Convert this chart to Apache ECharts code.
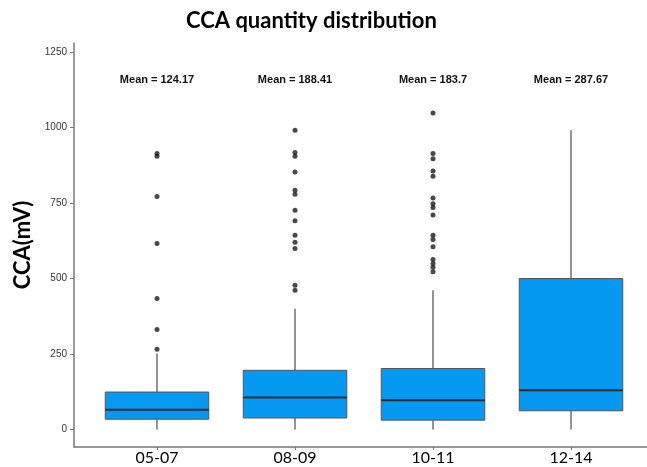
<!DOCTYPE html>
<html>
<head>
<meta charset="utf-8">
<script src="https://cdn.jsdelivr.net/npm/echarts@6/dist/echarts.min.js"></script>
<style>
  html, body { margin: 0; padding: 0; background: #fff; }
  #main { width: 647px; height: 467px; }
</style>
</head>
<body>
<div id="main"></div>
<script>
var categories = ['05-07', '08-09', '10-11', '12-14']
var means = [124.17, 188.41, 183.7, 287.67]
var mins = [0, 0, 0, 0]
var q1s = [34, 38, 31, 62]
var medians = [65, 106, 97, 130]
var q3s = [124, 196, 202, 500]
var maxs = [252, 400, 461, 991]
var outliers1 = [266, 331, 434, 616, 772, 905, 914]
var outliers2 = [461, 478, 599, 620, 643, 691, 726, 779, 792, 853, 905, 917, 991]
var outliers3 = [522, 537, 550, 563, 605, 629, 643, 710, 735, 748, 767, 839, 856, 897, 914, 1048]
var outliers4 = []
var yTicks = [0, 250, 500, 750, 1000, 1250]

var meanLabelY = 1157

var boxData = categories.map(function (c, i) {
  return [i, mins[i], q1s[i], medians[i], q3s[i], maxs[i]]
})
var outlierData = []
;[outliers1, outliers2, outliers3, outliers4].forEach(function (arr, i) {
  arr.forEach(function (v) { outlierData.push([i, v]) })
})
var meanData = means.map(function (m, i) { return [i, meanLabelY, m] })

function renderBox(params, api) {
  var x = api.value(0)
  var pMin = api.coord([x, api.value(1)])
  var pQ1 = api.coord([x, api.value(2)])
  var pMed = api.coord([x, api.value(3)])
  var pQ3 = api.coord([x, api.value(4)])
  var pMax = api.coord([x, api.value(5)])
  var w = api.size([1, 0])[0] * 0.75
  var left = pQ1[0] - w / 2
  return {
    type: 'group',
    children: [
      { type: 'line', shape: { x1: pMin[0], y1: pMin[1], x2: pQ1[0], y2: pQ1[1] },
        style: { stroke: '#888', lineWidth: 1.8 } },
      { type: 'line', shape: { x1: pQ3[0], y1: pQ3[1], x2: pMax[0], y2: pMax[1] },
        style: { stroke: '#888', lineWidth: 1.8 } },
      { type: 'rect', shape: { x: left, y: pQ3[1], width: w, height: pQ1[1] - pQ3[1] },
        style: { fill: '#0599f2', stroke: '#555', lineWidth: 1 } },
      { type: 'line', shape: { x1: left, y1: pMed[1], x2: left + w, y2: pMed[1] },
        style: { stroke: '#2b2b2b', lineWidth: 2 } }
    ]
  }
}

function renderMean(params, api) {
  var p = api.coord([api.value(0), api.value(1)])
  return {
    type: 'text',
    x: p[0], y: p[1],
    style: {
      text: 'Mean = ' + api.value(2),
      fill: '#111',
      font: 'bold 11px Arial, "Liberation Sans", sans-serif',
      align: 'center',
      verticalAlign: 'middle'
    }
  }
}

var chart = echarts.init(document.getElementById('main'))
chart.setOption({
  backgroundColor: '#fff',
  animation: false,
  title: {
    text: 'CCA quantity distribution',
    left: 181,
    top: 5,
    textStyle: { fontFamily: 'Lato', fontWeight: 'bold', fontSize: 22, color: '#000' }
  },
  grid: [
    { left: 74, right: 0, top: 43, bottom: 20 },
    { left: 88, right: 7, top: 43, bottom: 20 }
  ],
  xAxis: [
    {
      gridIndex: 0, type: 'value', min: 0, max: 1,
      axisLine: { show: true, onZero: false, lineStyle: { color: '#777', width: 1.5 } },
      axisTick: { show: false }, axisLabel: { show: false }, splitLine: { show: false }
    },
    {
      gridIndex: 1, type: 'category', data: categories,
      axisLine: { show: false, onZero: false },
      axisTick: { show: true, alignWithLabel: true, length: 3, lineStyle: { color: '#777' } },
      axisLabel: { margin: 3, fontFamily: 'Lato', fontSize: 16, color: '#000' },
      splitLine: { show: false }
    }
  ],
  yAxis: [
    {
      gridIndex: 0, type: 'value', min: -58, max: 1280,
      name: 'CCA(mV)', nameLocation: 'middle', nameGap: 28,
      nameTextStyle: { fontFamily: 'Lato', fontWeight: 'bold', fontSize: 22, color: '#000' },
      axisLine: { show: true, onZero: false, lineStyle: { color: '#777', width: 1.5 } },
      axisTick: { show: true, length: 4, customValues: yTicks, lineStyle: { color: '#777' } },
      axisLabel: {
        customValues: yTicks, margin: 7,
        formatter: function (v) { return String(v) },
        fontFamily: 'Arial, "Liberation Sans", sans-serif', fontSize: 10, color: '#333'
      },
      splitLine: { show: false }
    },
    {
      gridIndex: 1, type: 'value', min: -58, max: 1280, show: false
    }
  ],
  series: [
    {
      type: 'custom', xAxisIndex: 1, yAxisIndex: 1,
      renderItem: renderBox, data: boxData,
      encode: { x: 0, y: [1, 2, 3, 4, 5] }
    },
    {
      type: 'scatter', xAxisIndex: 1, yAxisIndex: 1,
      data: outlierData, symbolSize: 5,
      itemStyle: { color: '#1a1a1a' }
    },
    {
      type: 'custom', xAxisIndex: 1, yAxisIndex: 1,
      renderItem: renderMean, data: meanData,
      encode: { x: 0, y: 1 }
    }
  ]
})
</script>
</body>
</html>
